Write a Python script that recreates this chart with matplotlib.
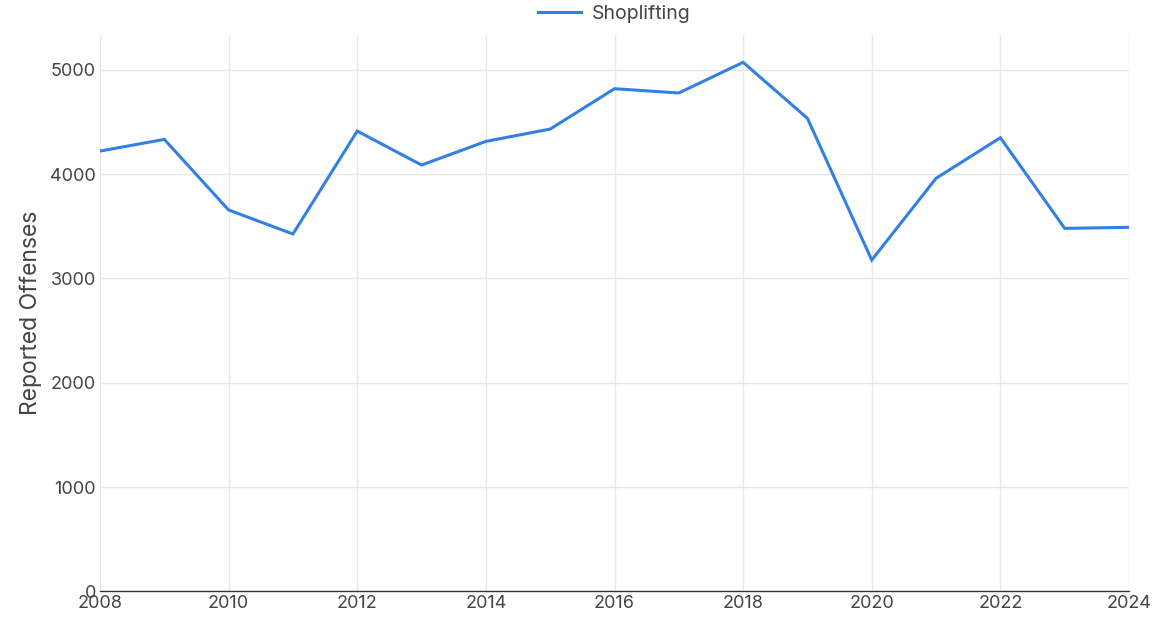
import matplotlib
matplotlib.use("Agg")
import matplotlib.pyplot as plt

years = [2008, 2009, 2010, 2011, 2012, 2013, 2014, 2015, 2016,
         2017, 2018, 2019, 2020, 2021, 2022, 2023, 2024]
shoplifting = [4221, 4333, 3656, 3426, 4413, 4087, 4314, 4432, 4819,
               4778, 5072, 4535, 3176, 3960, 4349, 3480, 3490]
series_name = "Shoplifting"
y_label = "Reported Offenses"
x_ticks = [2008, 2010, 2012, 2014, 2016, 2018, 2020, 2022, 2024]
y_ticks = [0, 1000, 2000, 3000, 4000, 5000]

plt.rcParams['font.family'] = ['Inter', 'DejaVu Sans']

fig = plt.figure(figsize=(11.71, 6.30), dpi=100)
ax = fig.add_axes([100/1171, 1 - 591.3/630, (1129-100)/1171, (591.3-35)/630])

line_color = "#3380e4"
ax.plot(years, shoplifting, color=line_color, linewidth=2.2, label=series_name,
        solid_joinstyle='miter', zorder=3)

ax.set_xlim(2008, 2024)
ax.set_ylim(0, 5334)
ax.set_xticks(x_ticks)
ax.set_yticks(y_ticks)
ax.set_xticklabels([str(t) for t in x_ticks])
ax.set_yticklabels([str(t) for t in y_ticks])

ax.grid(True, color="#e8e8e8", linewidth=1.0, zorder=0)
for s in ["top", "right", "left"]:
    ax.spines[s].set_visible(False)
ax.spines["bottom"].set_color("#333333")
ax.spines["bottom"].set_linewidth(1.0)

ax.tick_params(axis='y', length=0, pad=3, labelsize=13, labelcolor="#444444")
ax.tick_params(axis='x', length=0, pad=3, labelsize=13, labelcolor="#444444")

ax.set_ylabel(y_label, fontsize=16.5, color="#444444", labelpad=6)

leg = fig.legend(loc="center", bbox_to_anchor=(614/1171, 1 - 14/630), frameon=False,
                 fontsize=14, handlelength=2.2, handletextpad=0.55,
                 borderpad=0, borderaxespad=0)
for t in leg.get_texts():
    t.set_color("#444444")

fig.savefig("out.png", dpi=100, facecolor="white")
